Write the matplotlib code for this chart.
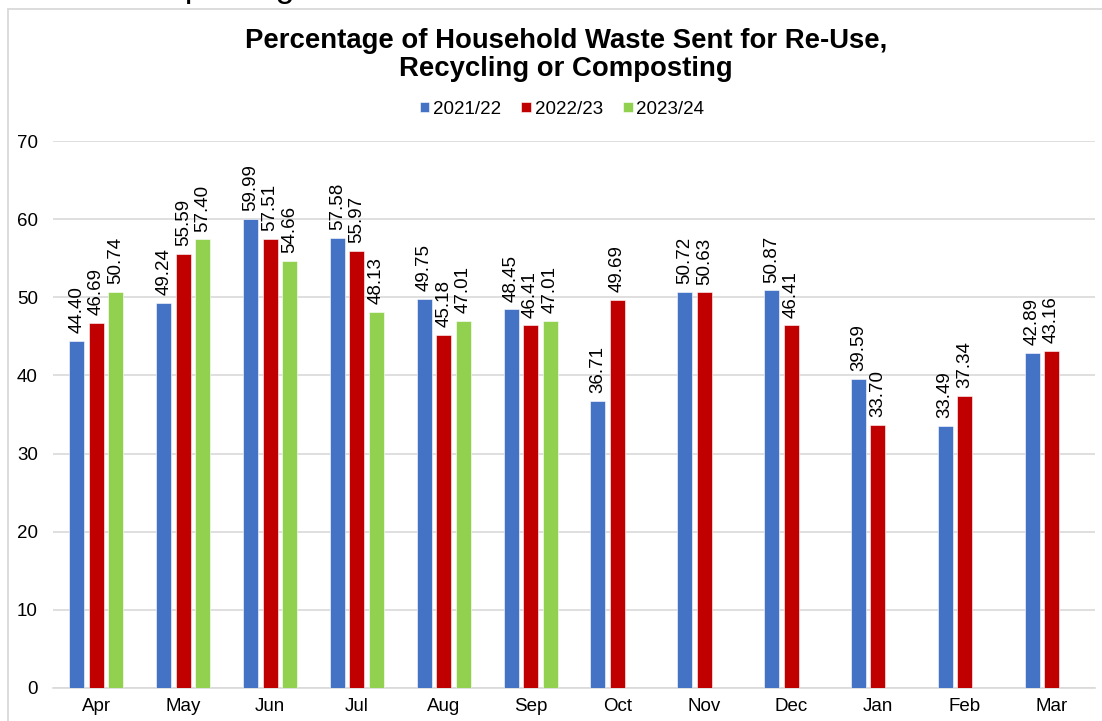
import numpy as np
import matplotlib.pyplot as plt
from matplotlib.patches import Rectangle

plt.rcParams['font.family'] = ['Liberation Sans', 'DejaVu Sans']

months = ['Apr', 'May', 'Jun', 'Jul', 'Aug', 'Sep', 'Oct', 'Nov', 'Dec', 'Jan', 'Feb', 'Mar']
years = ['2021/22', '2022/23', '2023/24']
y2122 = [44.40, 49.24, 59.99, 57.58, 49.75, 48.45, 36.71, 50.72, 50.87, 39.59, 33.49, 42.89]
y2223 = [46.69, 55.59, 57.51, 55.97, 45.18, 46.41, 49.69, 50.63, 46.41, 33.70, 37.34, 43.16]
y2324 = [50.74, 57.40, 54.66, 48.13, 47.01, 47.01]
colours = ['#4472C4', '#C00000', '#92D050']

fig = plt.figure(figsize=(11.02, 7.21), dpi=100)

# chart border and heading cut off above it
fig.patches.append(Rectangle((8 / 1102, -0.05), 1.1, 1.05 - 9 / 721,
                             transform=fig.transFigure, fill=False,
                             edgecolor='#d9d9d9', linewidth=1.3))
fig.text(113 / 1102, 1 + 3 / 721, 'Composting', fontsize=24.5,
         va='baseline', ha='left', color='black')

ax = fig.add_axes([53 / 1102, 1 - 688 / 721, (1095 - 53) / 1102, (688 - 141) / 721])

fs = 13.5
x = np.arange(len(months))
w = 0.172
step = 0.224
for i, (name, vals) in enumerate(zip(years, [y2122, y2223, y2324])):
    xs = x[:len(vals)] + (i - 1) * step
    bars = ax.bar(xs, vals, width=w, color=colours[i], label=name,
                  edgecolor='white', linewidth=0.4, zorder=3)
    for b, v in zip(bars, vals):
        ax.text(b.get_x() + b.get_width() / 2, v + 1.0, f'{v:.2f}',
                rotation=90, ha='center', va='bottom', fontsize=fs)

ax.set_xlim(-0.5, len(months) - 0.5)
ax.set_ylim(0, 70)
ax.set_yticks(range(0, 71, 10))
ax.set_xticks(x)
ax.set_xticklabels(months)
ax.tick_params(axis='both', length=0, labelsize=fs)
ax.tick_params(axis='y', pad=11)
ax.tick_params(axis='x', pad=7)
ax.grid(axis='y', color='#d9d9d9', linewidth=1.2, zorder=0)
for s in ['top', 'right', 'left']:
    ax.spines[s].set_visible(False)
ax.spines['bottom'].set_color('#d9d9d9')
ax.spines['bottom'].set_linewidth(1.2)

fig.text(566 / 1102, 1 - 55 / 721,
         'Percentage of Household Waste Sent for Re-Use,\nRecycling or Composting',
         ha='center', va='center', fontsize=19.8, fontweight='bold', linespacing=1.15)

fig.legend(loc='center', bbox_to_anchor=(562 / 1102, 1 - 109 / 721), ncol=3,
           frameon=False, fontsize=fs, handlelength=0.5, handleheight=0.5,
           handletextpad=0.2, columnspacing=1.1)

fig.savefig('out.png', dpi=100)
